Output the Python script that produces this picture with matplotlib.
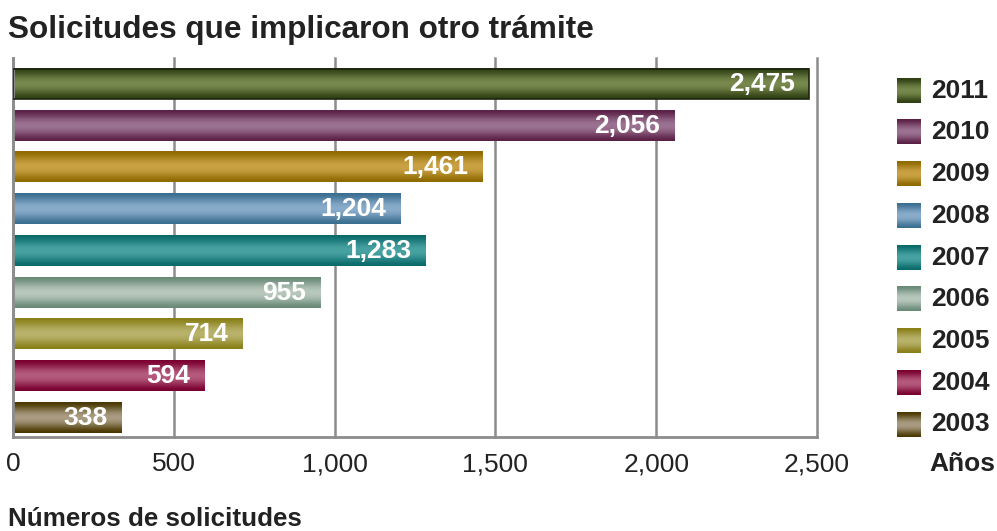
import numpy as np
import matplotlib.pyplot as plt
from matplotlib.colors import to_rgb

plt.rcParams['font.family'] = ['Liberation Sans', 'DejaVu Sans']

# Data, bottom to top
years = ['2003', '2004', '2005', '2006', '2007', '2008', '2009', '2010', '2011']
values = [338, 594, 714, 955, 1283, 1204, 1461, 2056, 2475]
dark_colors = ['#4a3800', '#7a0030', '#8a8018', '#6a8a78', '#0a6a6a',
               '#3a6e90', '#8e6a00', '#5a2146', '#2f3f12']
light_colors = ['#aa9c82', '#b45a7c', '#b8b26c', '#b8c8bc', '#48a2a2',
                '#8aaccb', '#caa244', '#9c7292', '#78894e']
xticks = [0, 500, 1000, 1500, 2000, 2500]
xtick_labels = ['0', '500', '1,000', '1,500', '2,000', '2,500']


def gradient(dark, light, n=64):
    # dark at the edges, light in the middle
    t = np.linspace(0, 1, n)
    f = np.sin(np.pi * t) ** 1.6
    d = np.array(to_rgb(dark))
    l = np.array(to_rgb(light))
    return (d[None, :] * (1 - f[:, None]) + l[None, :] * f[:, None])[:, None, :]


fig = plt.figure(figsize=(9.97, 5.31), dpi=100)
ax = fig.add_axes([13 / 997, 1 - 437 / 531, 804 / 997, 379 / 531])

ypos = np.arange(len(years))
bars = ax.barh(ypos, values, height=0.72, facecolor='none', edgecolor='none', zorder=2)
for i, b in enumerate(bars):
    x, y, w, h = b.get_x(), b.get_y(), b.get_width(), b.get_height()
    ax.imshow(gradient(dark_colors[i], light_colors[i]), extent=[x, x + w, y, y + h],
              aspect='auto', interpolation='bilinear', zorder=2)
    ax.annotate(f'{values[i]:,}', xy=(x + w, ypos[i]), xytext=(-14, 0),
                textcoords='offset pixels', ha='right', va='center',
                color='white', fontsize=19, fontweight='bold', zorder=3)
bars[-1].set_edgecolor('#1e2410')
bars[-1].set_linewidth(1.2)
bars[-1].set_zorder(3)

ax.set_xlim(0, 2500)
ax.set_ylim(-0.46, 8.62)
ax.set_xticks(xticks)
ax.set_xticklabels(xtick_labels)
ax.set_yticks([])
ax.grid(axis='x', color='#8c8c8c', linewidth=1.8, zorder=0)
ax.set_axisbelow(True)
for gl in ax.get_xgridlines():
    gl.set_clip_on(False)
ax.tick_params(axis='x', length=0, pad=11, labelsize=19, labelcolor='#222222')
for s in ['top', 'right']:
    ax.spines[s].set_visible(False)
for s in ['left', 'bottom']:
    ax.spines[s].set_color('#8c8c8c')
    ax.spines[s].set_linewidth(2)

# legend with gradient swatches
lax = fig.add_axes([895 / 997, 1 - 437 / 531, 102 / 997, 379 / 531])
lax.axis('off')
for i, yr in enumerate(years):
    lax.imshow(gradient(dark_colors[i], light_colors[i]),
               extent=[2, 26, ypos[i] - 0.29, ypos[i] + 0.29],
               aspect='auto', interpolation='bilinear')
    lax.text(36, ypos[i], yr, ha='left', va='center', fontsize=19,
             fontweight='bold', color='#222222')
lax.set_xlim(0, 102)
lax.set_ylim(-0.30, 8.78)

fig.text(929 / 997, 1 - 464 / 531, 'Años', ha='left', va='center', fontsize=19,
         fontweight='bold', color='#222222')
fig.text(8 / 997, 1 - 30 / 531, 'Solicitudes que implicaron otro trámite', ha='left',
         va='center', fontsize=22.7, fontweight='bold', color='#222222')
fig.text(8 / 997, 1 - 519 / 531, 'Números de solicitudes', ha='left', va='center',
         fontsize=18.7, fontweight='bold', color='#222222')

fig.savefig('out.png', dpi=100)
